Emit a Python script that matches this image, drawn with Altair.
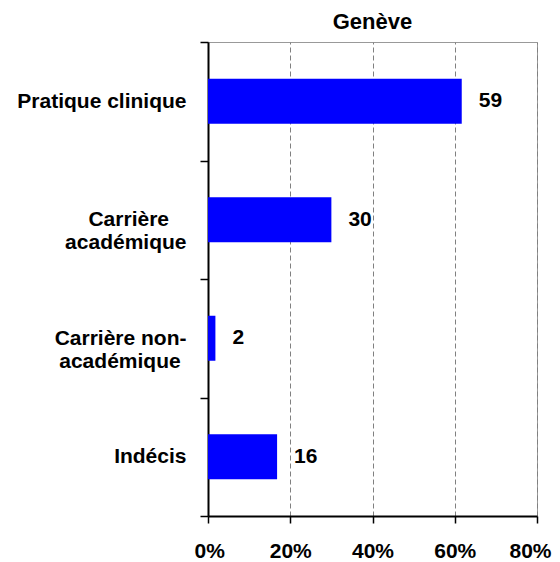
import altair as alt
import pandas as pd

NB = "\u00a0"
ZW = "\u200b"
categories = ["Pratique clinique",
              "Carrière" + NB * 3 + ZW + "|académique",
              "Carrière non-|académique" + NB + ZW,
              "Indécis"]
bar_values = [61.7, 30.0, 1.8, 16.8]
labels = ["59", "30", "2", "16"]
tick_values = [0, 20, 40, 60, 80]

df = pd.DataFrame({"cat": categories, "val": bar_values, "lab": labels})

FONT = "Liberation Sans"

y_enc = alt.Y("cat:N", sort=categories, title=None,
              scale=alt.Scale(paddingInner=0, paddingOuter=0),
              axis=alt.Axis(labelExpr="split(datum.label, '|')",
                            labelFont=FONT, labelFontSize=21, labelFontWeight="bold",
                            labelColor="black", labelLineHeight=23,
                            labelPadding=14, tickSize=8, tickColor="black",
                            tickWidth=1.5, tickBand="extent",
                            domainColor="black", domainWidth=2, grid=False))

x_enc = alt.X("val:Q", title=None,
              scale=alt.Scale(domain=[0, 80], nice=False),
              axis=alt.Axis(values=tick_values, labelExpr="datum.value + '%'",
                            labelFont=FONT, labelFontSize=21, labelFontWeight="bold",
                            labelColor="black", labelPadding=17,
                            labelFlush=True, labelFlushOffset=14,
                            tickSize=7, tickColor="black", tickWidth=1.5,
                            domainColor="black", domainWidth=2,
                            grid=True, gridColor="#808080", gridDash=[5, 3],
                            gridWidth=1))

bars = alt.Chart(df).mark_bar(color="#0000FF", size=45).encode(x=x_enc, y=y_enc)
text = alt.Chart(df).mark_text(align="left", baseline="middle", dx=17,
                               font=FONT, fontSize=21, fontWeight="bold",
                               color="black").encode(
    x=alt.X("val:Q"), y=alt.Y("cat:N", sort=categories), text="lab:N")

chart = (bars + text).properties(
    width=329, height=474,
    title=alt.TitleParams("Genève", font=FONT, fontSize=22, fontWeight="bold",
                          color="black", anchor="middle", offset=-3),
    autosize=alt.AutoSizeParams(type="none"),
    padding={"left": 200, "top": 34, "right": 15, "bottom": 46},
).configure_view(stroke="#999999", strokeWidth=1)

chart.save("out.html", embed_options={"renderer": "svg", "actions": False})
